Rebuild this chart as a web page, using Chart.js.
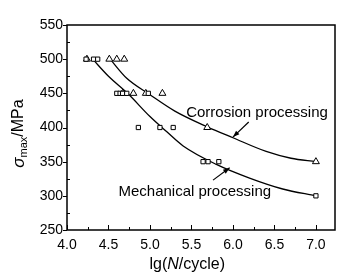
<!DOCTYPE html>
<html>
<head>
<meta charset="UTF-8">
<title>S-N curves</title>
<script src="https://cdn.jsdelivr.net/npm/chart.js"></script>
<style>
  html, body { margin: 0; padding: 0; background: #fff; }
  #wrap { width: 354px; height: 280px; }
</style>
</head>
<body>
<div id="wrap"><canvas id="snChart" width="354" height="280"></canvas></div>
<script>
// tick labels
const xTicks = [4.0, 4.5, 5.0, 5.5, 6.0, 6.5, 7.0];
const yTicks = [250, 300, 350, 400, 450, 500, 550];

// measured points (lg N, stress)
const mechX = [4.23, 4.32, 4.37, 4.60, 4.64, 4.67, 4.72, 4.98, 4.86, 5.12, 5.28, 5.64, 5.70, 5.83, 7.0];
const mechY = [500, 500, 500, 450, 450, 450, 450, 450, 400, 400, 400, 350, 350, 350, 300];
const corrX = [4.24, 4.51, 4.60, 4.69, 4.67, 4.80, 4.95, 5.15, 5.69, 7.0];
const corrY = [500, 500, 500, 500, 450, 450, 450, 450, 400, 350];

// fitted curves
const mechFitX = [4.31, 4.50, 4.73, 5.00, 5.20, 5.40, 5.80, 6.20, 6.60, 7.0];
const mechFitY = [500, 475, 450, 416, 394, 373, 346, 326, 310, 300];
const corrFitX = [4.52, 4.72, 5.00, 5.30, 5.69, 6.00, 6.40, 6.70, 7.0];
const corrFitY = [500, 472, 448, 424, 401, 385, 365, 355, 350];

const toPts = (xs, ys) => xs.map((x, i) => ({ x: x, y: ys[i] }));

const FONT = '"Liberation Sans", Arial, sans-serif';

// frame, tick marks, axis titles and the two labels with arrows
const decor = {
  id: 'decor',
  afterDraw(chart) {
    const ctx = chart.ctx;
    const a = chart.chartArea;
    const xs = chart.scales.x, ys = chart.scales.y;
    ctx.save();
    ctx.strokeStyle = '#000';
    ctx.fillStyle = '#000';
    ctx.lineWidth = 1.5;
    ctx.strokeRect(a.left, a.top, a.right - a.left, a.bottom - a.top);

    ctx.lineWidth = 1;
    ctx.beginPath();
    for (let v = 4.0; v <= 7.0001; v += 0.25) {
      const px = Math.round(xs.getPixelForValue(v)) + 0.5;
      const major = Math.abs(v * 2 - Math.round(v * 2)) < 1e-6;
      ctx.moveTo(px, a.bottom);
      ctx.lineTo(px, a.bottom - (major ? 5 : 3));
    }
    for (let v = 250; v <= 550; v += 25) {
      const py = Math.round(ys.getPixelForValue(v)) + 0.5;
      const major = v % 50 === 0;
      if (major) {
        ctx.moveTo(a.left - 4, py);
        ctx.lineTo(a.left, py);
      } else {
        ctx.moveTo(a.left, py);
        ctx.lineTo(a.left + 3, py);
      }
    }
    ctx.stroke();

    // x title: lg(N/cycle)
    ctx.textBaseline = 'middle';
    const xt = [['lg(', ''], ['N', 'italic '], ['/cycle)', '']];
    let w = 0;
    xt.forEach(p => { ctx.font = p[1] + '16px ' + FONT; w += ctx.measureText(p[0]).width; });
    let cx = xs.getPixelForValue(5.45) - w / 2;
    const ty = 265;
    xt.forEach(p => {
      ctx.font = p[1] + '16px ' + FONT;
      ctx.textAlign = 'left';
      ctx.fillText(p[0], cx, ty);
      cx += ctx.measureText(p[0]).width;
    });

    // y title: sigma_max/MPa
    ctx.save();
    ctx.translate(19, (a.top + a.bottom) / 2 + 6);
    ctx.rotate(-Math.PI / 2);
    const yt = [['\u03c3', 'italic 17px ', 0], ['max', '11px ', 5], ['/MPa', '16px ', 0]];
    w = 0;
    yt.forEach(p => { ctx.font = p[1] + FONT; w += ctx.measureText(p[0]).width; });
    cx = -w / 2;
    yt.forEach(p => {
      ctx.font = p[1] + FONT;
      ctx.textAlign = 'left';
      ctx.fillText(p[0], cx, p[2]);
      cx += ctx.measureText(p[0]).width;
    });
    ctx.restore();

    // labels with arrows (data units)
    const notes = [
      { text: 'Corrosion processing', tx: 6.29, ty: 421, from: [6.19, 408], to: [6.00, 386] },
      { text: 'Mechanical processing', tx: 5.54, ty: 306, from: [5.76, 323], to: [5.96, 341] }
    ];
    ctx.font = '15px ' + FONT;
    ctx.textAlign = 'center';
    notes.forEach(n => {
      ctx.fillText(n.text, xs.getPixelForValue(n.tx), ys.getPixelForValue(n.ty));
      const x1 = xs.getPixelForValue(n.from[0]), y1 = ys.getPixelForValue(n.from[1]);
      const x2 = xs.getPixelForValue(n.to[0]), y2 = ys.getPixelForValue(n.to[1]);
      ctx.lineWidth = 1.2;
      ctx.beginPath();
      ctx.moveTo(x1, y1);
      ctx.lineTo(x2, y2);
      ctx.stroke();
      const ang = Math.atan2(y2 - y1, x2 - x1);
      ctx.beginPath();
      ctx.moveTo(x2, y2);
      ctx.lineTo(x2 - 7 * Math.cos(ang - 0.35), y2 - 7 * Math.sin(ang - 0.35));
      ctx.lineTo(x2 - 7 * Math.cos(ang + 0.35), y2 - 7 * Math.sin(ang + 0.35));
      ctx.closePath();
      ctx.fill();
    });
    ctx.restore();
  }
};

const ctx = document.getElementById('snChart').getContext('2d');
new Chart(ctx, {
  type: 'scatter',
  data: {
    datasets: [
      {
        label: 'Mechanical processing',
        data: toPts(mechX, mechY),
        pointStyle: 'rect',
        pointRadius: 3,
        borderColor: '#000',
        backgroundColor: '#fff',
        pointBorderWidth: 1
      },
      {
        label: 'Corrosion processing',
        data: toPts(corrX, corrY),
        pointStyle: 'triangle',
        pointRadius: 4,
        borderColor: '#000',
        backgroundColor: '#fff',
        pointBorderWidth: 1
      },
      {
        type: 'line',
        label: 'Mechanical fit',
        data: toPts(mechFitX, mechFitY),
        borderColor: '#000',
        borderWidth: 1.3,
        pointRadius: 0,
        fill: false,
        cubicInterpolationMode: 'monotone'
      },
      {
        type: 'line',
        label: 'Corrosion fit',
        data: toPts(corrFitX, corrFitY),
        borderColor: '#000',
        borderWidth: 1.3,
        pointRadius: 0,
        fill: false,
        cubicInterpolationMode: 'monotone'
      }
    ]
  },
  options: {
    responsive: false,
    animation: false,
    layout: { padding: { top: 25, right: 19, left: 0, bottom: 0 } },
    plugins: { legend: { display: false }, tooltip: { enabled: false } },
    scales: {
      x: {
        type: 'linear',
        min: 4.0,
        max: 7.23,
        afterBuildTicks: axis => { axis.ticks = xTicks.map(v => ({ value: v })); },
        afterFit: s => { s.height = 50; },
        grid: { display: false, drawTicks: false },
        border: { display: false },
        ticks: {
          padding: 7,
          color: '#000',
          font: { family: FONT, size: 14 },
          callback: v => Number(v).toFixed(1)
        }
      },
      y: {
        type: 'linear',
        min: 250,
        max: 550,
        afterBuildTicks: axis => { axis.ticks = yTicks.map(v => ({ value: v })); },
        afterFit: s => { s.width = 67; },
        grid: { display: false, drawTicks: false },
        border: { display: false },
        ticks: {
          padding: 4,
          color: '#000',
          font: { family: FONT, size: 14 },
          callback: v => String(v)
        }
      }
    }
  },
  plugins: [decor]
});
</script>
</body>
</html>
